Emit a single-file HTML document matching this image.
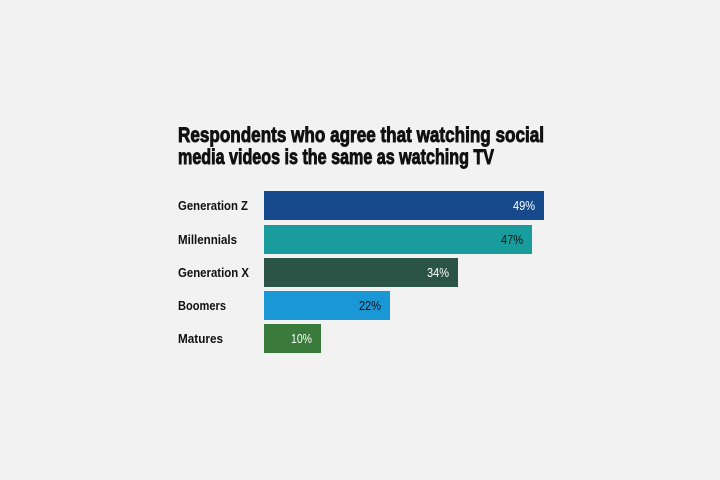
<!DOCTYPE html>
<html><head><meta charset="utf-8"><style>
html,body{margin:0;padding:0;background:#f2f2f2;}
svg{display:block;}
text{font-family:"Liberation Sans Narrow","Liberation Sans",sans-serif;font-weight:bold;}
text.n{font-weight:normal;}
</style></head><body>
<svg width="720" height="480" viewBox="0 0 720 480" xmlns="http://www.w3.org/2000/svg">
<rect width="720" height="480" fill="#f2f2f2"/>
<text x="178" y="142" font-size="21" fill="#111" stroke="#111" stroke-width="0.9" textLength="366" lengthAdjust="spacingAndGlyphs">Respondents who agree that watching social</text>
<text x="178" y="164" font-size="21" fill="#111" stroke="#111" stroke-width="0.9" textLength="316" lengthAdjust="spacingAndGlyphs">media videos is the same as watching TV</text>

<rect x="264" y="191" width="280" height="29" fill="#174a8c"/>
<rect x="264" y="225" width="268" height="29" fill="#189c9c"/>
<rect x="264" y="258" width="194" height="29" fill="#2c5446"/>
<rect x="264" y="291" width="126" height="29" fill="#1a98d6"/>
<rect x="264" y="324" width="57" height="29" fill="#3a7a3a"/>

<g font-size="13" fill="#111">
<text x="178" y="210" textLength="70" lengthAdjust="spacingAndGlyphs">Generation Z</text>
<text x="178" y="244" textLength="59" lengthAdjust="spacingAndGlyphs">Millennials</text>
<text x="178" y="277" textLength="71" lengthAdjust="spacingAndGlyphs">Generation X</text>
<text x="178" y="310" textLength="48" lengthAdjust="spacingAndGlyphs">Boomers</text>
<text x="178" y="343" textLength="45" lengthAdjust="spacingAndGlyphs">Matures</text>
</g>
<g font-size="13" text-anchor="end">
<text class="n" x="535" y="210" fill="#fff" textLength="22" lengthAdjust="spacingAndGlyphs">49%</text>
<text class="n" x="523" y="244" fill="#111" textLength="22" lengthAdjust="spacingAndGlyphs">47%</text>
<text class="n" x="449" y="277" fill="#fff" textLength="22" lengthAdjust="spacingAndGlyphs">34%</text>
<text class="n" x="381" y="310" fill="#111" textLength="22" lengthAdjust="spacingAndGlyphs">22%</text>
<text class="n" x="312" y="343" fill="#fff" textLength="21" lengthAdjust="spacingAndGlyphs">10%</text>
</g>
</svg>
</body></html>
